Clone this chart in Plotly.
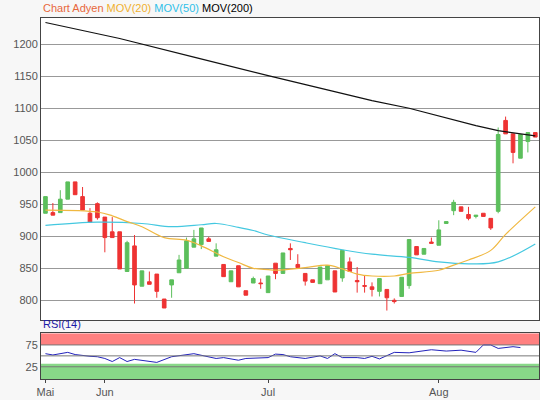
import plotly.graph_objects as go

idx = list(range(67))
opens  = [936,937,937,958,985,962,936,951,930,907,907,845,885,822,829,841,802,824,843,850,883,887,896,869,856,829,854,815,827,827,812,
          858,842,881,856,842,832,826,832,846,835,860,831,823,821,814,817,800,806,823,884,872,891,886,920,940,946,934,931,936,928,939,1081,1060,1022,1048,1062]
closes = [962,933,958,985,965,941,922,929,898,898,849,890,824,846,825,814,788,832,863,893,896,913,892,879,837,846,821,808,834,826,838,
          842,874,879,851,830,828,852,854,813,878,845,829,822,817,834,804,798,836,895,871,881,889,910,923,953,939,928,933,931,913,1059,1060,1031,1059,1062,1055]
highs  = [962,952,972,985,985,977,944,953,930,930,907,893,902,846,845,841,802,832,871,898,910,913,899,889,856,846,854,815,837,834,838,
          858,874,889,872,842,832,852,854,846,878,867,852,838,828,834,817,803,836,895,884,881,898,925,923,957,946,946,933,936,928,1070,1087,1060,1059,1062,1062]
lows   = [936,933,937,958,965,941,922,926,875,898,849,845,795,822,825,804,788,804,843,850,883,880,892,869,837,829,821,808,827,818,812,
          833,842,863,851,823,828,826,832,813,829,845,812,812,806,806,784,795,806,818,871,872,889,886,920,933,939,925,928,931,910,936,1060,1014,1022,1031,1055]

ma20_x = [0,7,9,11,13,16,19,21,24,26,28,30,31,35,38,40,42,44,47,49,53,55,57,60,62,66]
ma20_y = [941,938,932,923,915,898,894,885,868,859,850,848,847,851,855,849,841,838,838,842,847,855,863,878,903,946]
ma50_x = [0,7,13,17,21,23,26,28,30,35,40,44,49,53,57,61,66]
ma50_y = [917,922,920,915,918,920,914,909,902,890,879,872,867,860,857,860,888]
ma200_x = [0,10,20,30,44,49,58,61,66]
ma200_y = [1234,1209,1180,1151,1112,1100,1073,1065,1057]

rsi_x = [0,1,3,4,6,7,8,9,10,11,12,15,17,20,23,24,26,27,30,31,32,33,35,37,38,39,40,42,43,44,45,47,49,52,54,56,58,59,60,61,63,64]
rsi_y = [55,52,58,53,49,48,44,37,46,37,42,35,48,55,44,46,40,44,46,54,53,48,44,50,44,55,46,46,44,49,43,58,57,64,61,63,58,75,75,67,71,69]

tick_pos = [0, 8, 30, 53]
tick_text = ["Mai", "Jun", "Jul", "Aug"]

FONT = "Liberation Sans"
fig = go.Figure()
fig.add_trace(go.Candlestick(x=idx, open=opens, high=highs, low=lows, close=closes,
    increasing=dict(line=dict(color="#5cbf5c", width=1), fillcolor="#5cbf5c"),
    decreasing=dict(line=dict(color="#ee3333", width=1), fillcolor="#ee3333"),
    whiskerwidth=0, showlegend=False, xaxis="x", yaxis="y"))
fig.add_trace(go.Scatter(x=ma200_x, y=ma200_y, mode="lines", line=dict(color="#111111", width=1.2), showlegend=False))
fig.add_trace(go.Scatter(x=ma50_x, y=ma50_y, mode="lines", line=dict(color="#44c8e0", width=1.2, shape="spline"), showlegend=False))
fig.add_trace(go.Scatter(x=ma20_x, y=ma20_y, mode="lines", line=dict(color="#f0b840", width=1.2, shape="spline"), showlegend=False))
fig.add_trace(go.Scatter(x=rsi_x, y=rsi_y, mode="lines", line=dict(color="#2222bb", width=1), showlegend=False, xaxis="x2", yaxis="y2"))

shapes = [
    dict(type="rect", xref="x2 domain", yref="y2", x0=0, x1=1, y0=75, y1=102, fillcolor="#ff8080", line_width=0, layer="below"),
    dict(type="rect", xref="x2 domain", yref="y2", x0=0, x1=1, y0=-3, y1=32, fillcolor="#88d888", line_width=0, layer="below"),
]
for v in [25, 50, 75]:
    shapes.append(dict(type="line", xref="x2 domain", yref="y2", x0=0, x1=1, y0=v, y1=v, line=dict(color="#777777", width=1)))

xr = [-0.6, 66.5]
fig.update_layout(
    width=540, height=400, margin=dict(l=41, r=1, t=18, b=21, autoexpand=False),
    paper_bgcolor="#f7f7f7", plot_bgcolor="white",
    font=dict(family=FONT, size=11, color="#555555"),
    xaxis=dict(domain=[0, 1], range=xr, showticklabels=False, showgrid=False, showline=True, linecolor="#444", mirror=True,
               rangeslider=dict(visible=False), anchor="y", zeroline=False, automargin=False),
    yaxis=dict(domain=[0.163, 1], range=[769, 1241], tickvals=[800, 850, 900, 950, 1000, 1050, 1100, 1150, 1200],
               gridcolor="#999999", showline=True, linecolor="#444", mirror=True, zeroline=False, ticks="", automargin=False),
    xaxis2=dict(domain=[0, 1], range=xr, anchor="y2", tickvals=tick_pos, ticktext=tick_text, ticks="outside", ticklen=3,
                tickcolor="#444", showgrid=False, showline=True, linecolor="#444", mirror=True, zeroline=False, automargin=False),
    yaxis2=dict(domain=[0, 0.127], range=[-3, 102], tickvals=[25, 75], showgrid=False, showline=True, linecolor="#444",
                mirror=True, zeroline=False, automargin=False),
    shapes=shapes,
    annotations=[
        dict(xref="paper", yref="paper", x=0, y=1, yshift=2, xanchor="left", yanchor="bottom", showarrow=False,
             text="<span style='color:#e8683c'>Chart Adyen</span> <span style='color:#f0b030'>MOV(20)</span> "
                  "<span style='color:#30c0e8'>MOV(50)</span> <span style='color:#000'>MOV(200)</span>",
             font=dict(size=11, family=FONT)),
        dict(xref="paper", yref="paper", x=0, y=0.127, yshift=1, xanchor="left", yanchor="bottom", showarrow=False,
             text="RSI(14)", font=dict(size=11, family=FONT, color="#1a1aa8")),
    ],
)
fig.write_html("out.html", config={"displayModeBar": False},
               post_script="document.body.style.margin='0';document.body.style.overflow='hidden';")
